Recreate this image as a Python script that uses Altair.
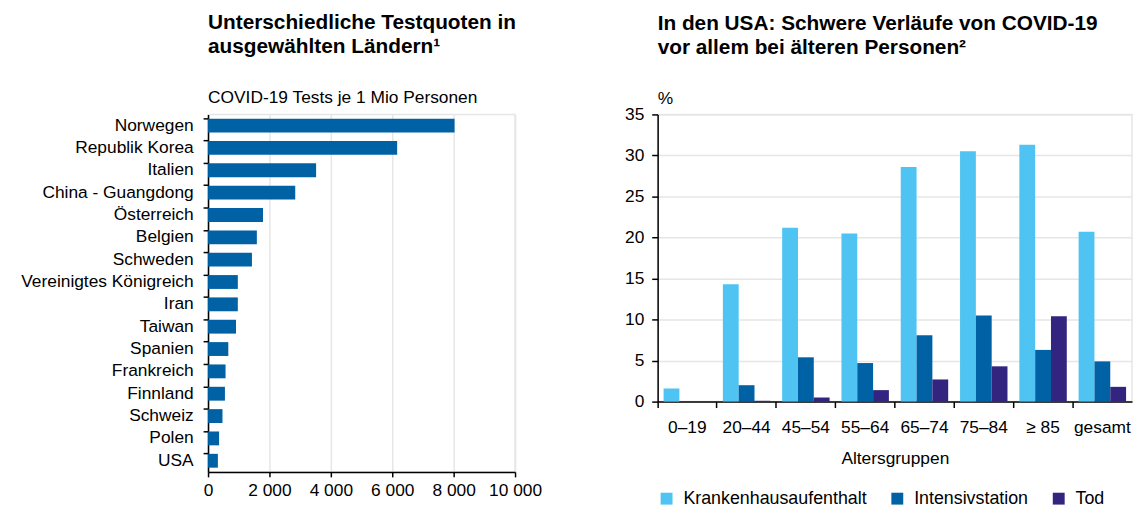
import altair as alt
import pandas as pd

# ---- data: left panel ----
countries = ["Norwegen", "Republik Korea", "Italien", "China - Guangdong", "Österreich",
             "Belgien", "Schweden", "Vereinigtes Königreich", "Iran", "Taiwan",
             "Spanien", "Frankreich", "Finnland", "Schweiz", "Polen", "USA"]
tests = [8030, 6160, 3520, 2840, 1790, 1590, 1430, 970, 970, 910, 660, 570, 550, 470, 360, 320]
x_ticks = [0, 2000, 4000, 6000, 8000, 10000]

# ---- data: right panel ----
age_groups = ["0–19", "20–44", "45–54", "55–64", "65–74", "75–84", "≥ 85", "gesamt"]
hospital = [1.6, 14.3, 21.2, 20.5, 28.6, 30.5, 31.3, 20.7]
icu = [0.0, 2.0, 5.4, 4.7, 8.1, 10.5, 6.3, 4.9]
death = [0.0, 0.1, 0.5, 1.4, 2.7, 4.3, 10.4, 1.8]
series = ["Krankenhausaufenthalt", "Intensivstation", "Tod"]
colors = ["#4FC3F1", "#0062A5", "#33257F"]
y_ticks = [0, 5, 10, 15, 20, 25, 30, 35]

FONT = "Liberation Sans"
FS = 17.5

df1 = pd.DataFrame({"Land": countries, "Tests": tests})
rows = []
for name, vals in zip(series, [hospital, icu, death]):
    for g, v in zip(age_groups, vals):
        rows.append({"Altersgruppe": g, "Serie": name, "Wert": v})
df2 = pd.DataFrame(rows)

title_common = dict(anchor="start", frame="group", font=FONT, fontSize=21, fontWeight="bold",
                    color="black", lineHeight=24, subtitleFont=FONT, subtitleFontSize=FS,
                    subtitleColor="black", subtitlePadding=33)

left = alt.Chart(
    df1,
    title=alt.Title(["Unterschiedliche Testquoten in", "ausgewählten Ländern¹"],
                    subtitle="COVID-19 Tests je 1 Mio Personen", offset=8, **title_common),
).mark_bar(color="#0062A5").encode(
    x=alt.X("Tests:Q", scale=alt.Scale(domain=[0, 10000], nice=False),
            axis=alt.Axis(values=x_ticks, title=None, grid=True, tickSize=5, labelPadding=5,
                          labelOverlap=False, labelFlush=False, labelBound=False,
                          labelExpr="datum.value >= 1000 ? floor(datum.value/1000) + ' 000' : datum.label")),
    y=alt.Y("Land:N", sort=countries, scale=alt.Scale(paddingInner=0.38, paddingOuter=0.19),
            axis=alt.Axis(title=None, bandPosition=0, tickSize=5, labelPadding=10, grid=False,
                          labelOverlap=False)),
).properties(width=310, height=361)

right = alt.Chart(
    df2,
    title=alt.Title(["In den USA: Schwere Verläufe von COVID-19", "vor allem bei älteren Personen²"],
                    subtitle="%", offset=-2, **title_common),
).mark_bar().encode(
    x=alt.X("Altersgruppe:N", sort=age_groups, scale=alt.Scale(paddingInner=0, paddingOuter=0),
            axis=alt.Axis(title="Altersgruppen", labelAngle=0, bandPosition=0, tickSize=6,
                          labelPadding=11, titlePadding=14, titleFontWeight="normal",
                          titleFontSize=FS, titleFont=FONT, titleColor="black",
                          labelOverlap=False)),
    xOffset=alt.XOffset("Serie:N", sort=series, scale=alt.Scale(paddingOuter=0.375, paddingInner=0)),
    y=alt.Y("Wert:Q", scale=alt.Scale(domain=[0, 35], nice=False),
            axis=alt.Axis(values=y_ticks, title=None, grid=True, tickSize=6, labelPadding=8,
                          labelOverlap=False)),
    color=alt.Color("Serie:N", sort=series, scale=alt.Scale(domain=series, range=colors),
                    legend=alt.Legend(orient="bottom", direction="horizontal", title=None,
                                      symbolType="square", symbolSize=144, labelFontSize=18,
                                      labelFont=FONT, labelColor="black", columnPadding=21,
                                      labelOffset=8, labelLimit=400, symbolStrokeWidth=0,
                                      offset=23)),
).properties(width=479, height=290)

chart = alt.hconcat(left, right, spacing=81).resolve_scale(color="independent").resolve_legend(
    color="independent"
).properties(
    padding={"top": 0, "left": 12, "right": 0, "bottom": 0}
).configure_axis(
    domainColor="black", tickColor="black", labelColor="black", labelFont=FONT, labelFontSize=FS,
    gridColor="#e6e6e6", gridWidth=1.5, domainWidth=1.5, tickWidth=1.5,
).configure_view(stroke="#e6e6e6", strokeWidth=1.5)

chart.save("out.html", embed_options={"renderer": "svg", "actions": False})
